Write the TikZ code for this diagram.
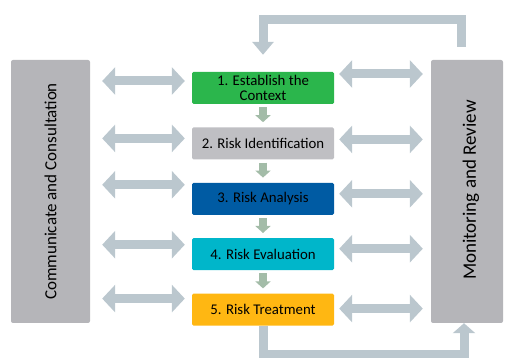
\documentclass[tikz,border=0pt]{standalone}
\usepackage{fontspec}
\setmainfont{Carlito}
\usepackage{tikz}
\usetikzlibrary{arrows.meta,positioning,calc}

\definecolor{linkgray}{RGB}{187,199,206}
\definecolor{sidegray}{RGB}{181,181,185}
\definecolor{idgray}{RGB}{191,191,195}
\definecolor{estgreen}{RGB}{43,182,76}
\definecolor{anablue}{RGB}{0,91,163}
\definecolor{evalcyan}{RGB}{0,182,202}
\definecolor{treatorange}{RGB}{255,183,18}
\definecolor{flowgreen}{RGB}{163,188,168}

\begin{document}
\begin{tikzpicture}[x=1pt, y=1pt,
    stepbox/.style={rectangle, rounded corners=1.5pt, minimum width=142pt, minimum height=32pt,
        inner sep=0pt, align=center, font=\fontsize{14.8}{15}\selectfont},
    sidebox/.style={rectangle, fill=sidegray, rounded corners=2pt, minimum height=263pt, inner sep=0pt},
    link/.style={linkgray, line width=9pt, {Triangle[width=27pt,length=13pt]}-{Triangle[width=27pt,length=13pt]}},
    flow/.style={flowgreen, line width=8pt, -{Triangle[width=15pt,length=7pt]}},
    feedback/.style={linkgray, line width=9pt, -{Triangle[width=21pt,length=13pt]}}]
    \useasboundingbox (0,0) rectangle (505,358);

    % Process steps
    \node[stepbox, fill=estgreen] (s1) at (263,270) {1. Establish the\\Context};
    \node[stepbox, fill=idgray, below=23pt of s1] (s2) {2. Risk Identification};
    \node[stepbox, fill=anablue, below=23pt of s2] (s3) {3. Risk Analysis};
    \node[stepbox, fill=evalcyan, below=23pt of s3] (s4) {4. Risk Evaluation};
    \node[stepbox, fill=treatorange, below=23pt of s4] (s5) {5. Risk Treatment};

    % Side panels
    \node[sidebox, minimum width=79pt] (cc) at (50.5,166.5) {};
    \node[rotate=90, font=\fontsize{17}{17}\selectfont] (cctext) at (cc.center) {Communicate and Consultation};
    \node[sidebox, minimum width=72pt] (mon) at (467,166.5) {};
    \node[rotate=90, font=\fontsize{19}{19}\selectfont] (montext) at ([xshift=4pt,yshift=1.5pt]mon.center) {Monitoring and Review};

    % Flow between steps
    \foreach \a/\b in {s1/s2, s2/s3, s3/s4, s4/s5}
        \draw[flow, shorten <=3pt, shorten >=5pt] (\a.south) -- (\b.north);

    % Two-way links to both panels
    \foreach \s/\l/\r in {s1/7/14, s2/5/4, s3/14/5, s4/9.5/5.5, s5/11/1} {
        \draw[link, shorten <=12pt, shorten >=7pt] ($(cc.east |- \s.west)+(0,\l)$) -- ($(\s.west)+(0,\l)$);
        \draw[link, shorten <=5pt, shorten >=8pt] ($(\s.east)+(0,\r)$) -- ($(mon.west |- \s.east)+(0,\r)$);
    }

    % Feedback loops
    \draw[feedback] ([xshift=-6pt,yshift=13pt]mon.north) -- ++(0,27) -| ([yshift=17pt]s1.north);
    \draw[feedback, -{Triangle[width=22pt,length=10pt]}] (s5.south) -- ++(0,-29) -| ([xshift=-3pt]mon.south);
\end{tikzpicture}
\end{document}
